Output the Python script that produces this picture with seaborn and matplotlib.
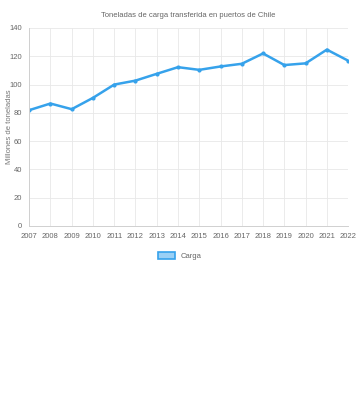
import matplotlib
matplotlib.use("Agg")
import matplotlib.pyplot as plt
from matplotlib.patches import Patch
import seaborn as sns
import pandas as pd

years = [2007, 2008, 2009, 2010, 2011, 2012, 2013, 2014, 2015, 2016, 2017, 2018, 2019, 2020, 2021, 2022]
carga = [81.9, 86.6, 82.6, 90.6, 100.0, 102.8, 107.6, 112.3, 110.4, 112.8, 114.7, 122.0, 113.8, 115.0, 124.7, 116.9]

df = pd.DataFrame({"year": years, "carga": carga})

sns.set_style("white")
plt.rcParams['font.family'] = ['Liberation Sans', 'DejaVu Sans']

fig = plt.figure(figsize=(3.6, 4.0), dpi=100)
ax = fig.add_axes([0.081, 0.435, 0.886, 0.495])

sns.lineplot(data=df, x="year", y="carga", ax=ax, color="#36a2eb", linewidth=1.8,
             marker="o", markersize=3, markeredgewidth=0)

ax.set_xlim(2007, 2022)
ax.set_ylim(0, 140)
ax.set_xticks(years)
ax.set_xticklabels([str(y) for y in years])
ax.set_yticks(range(0, 141, 20))
ax.grid(True, color="#e8e8e8", linewidth=0.6)
for s in ["top", "right"]:
    ax.spines[s].set_visible(False)
for s in ["left", "bottom"]:
    ax.spines[s].set_color("#d0d0d0")
    ax.spines[s].set_linewidth(0.7)
ax.tick_params(axis="both", labelsize=5.5, colors="#666666", length=3, width=0.6, color="#d0d0d0", pad=2)
ax.set_xlabel("")
ax.set_ylabel("Millones de toneladas", fontsize=5.5, color="#777777")
ax.yaxis.set_label_coords(-0.05, 0.5)
ax.set_title("Toneladas de carga transferida en puertos de Chile", fontsize=5.5, color="#666666", pad=8)

handle = Patch(facecolor="#9ad0f5", edgecolor="#36a2eb", linewidth=1.2, label="Carga")
fig.legend(handles=[handle], loc="center", bbox_to_anchor=(0.5, 0.36), frameon=False,
           fontsize=5.5, labelcolor="#666666", handlelength=2.2, handleheight=1.0)

fig.savefig("out.png", dpi=100)
